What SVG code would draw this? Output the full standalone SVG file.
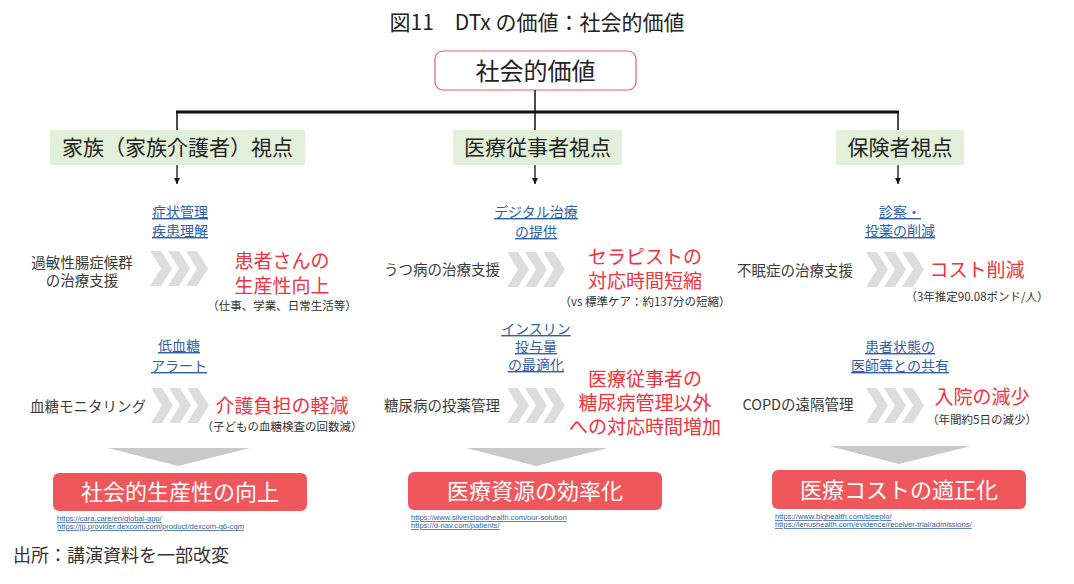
<svg xmlns="http://www.w3.org/2000/svg" width="1074" height="584" viewBox="0 0 1074 584">
<defs>
<style>
.jp{font-family:"Noto Sans CJK JP","Noto Sans",sans-serif;}
.title{font-size:21px;fill:#222;}
.hdr{font-size:21px;fill:#222;}
.lnk{font-size:14px;fill:#2f5fa8;text-decoration:underline;}
.dsc{font-size:14.5px;fill:#3a3a3a;}
.red{font-size:19px;fill:#f2323c;}
.sub{font-size:11.5px;fill:#333;}
.btn{font-size:22px;fill:#fff;}
.url{font-family:"Liberation Sans",Arial,sans-serif;font-size:7.6px;fill:#2f5fa8;text-decoration:underline;}
.green{fill:#e2efd9;}
.rbox{fill:#ef575d;}
.tri{fill:#c9c9c9;}
.chev{fill:#dddddd;}
.ln{stroke:#111;fill:none;}
</style>
<marker id="ah" markerWidth="8" markerHeight="8" refX="6" refY="4" orient="auto" markerUnits="userSpaceOnUse">
<path d="M0,1 L6,4 L0,7 Z" fill="#111"/>
</marker>
<g id="chevs">
<path d="M0,0 H11 L22,17.5 L11,35 H0 L11,17.5 Z"/>
<path d="M18,0 H29 L40,17.5 L29,35 H18 L29,17.5 Z"/>
<path d="M36,0 H47 L58,17.5 L47,35 H36 L47,17.5 Z"/>
</g>
</defs>
<rect width="1074" height="584" fill="#fff"/>

<text class="jp title" x="537" y="30" text-anchor="middle">図11　DTx の価値：社会的価値</text>

<g id="root">
<rect x="435" y="51" width="201" height="39" rx="8" fill="#fff" stroke="#e8636b" stroke-width="1.2"/>
<text class="jp" x="535.5" y="80" font-size="24" fill="#222" text-anchor="middle">社会的価値</text>
</g>

<g id="connectors">
<line class="ln" x1="535" y1="90" x2="535" y2="112" stroke-width="1.5"/>
<line class="ln" x1="176" y1="112" x2="899" y2="112" stroke-width="3"/>
<line class="ln" x1="177" y1="112" x2="177" y2="130" stroke-width="1.5"/>
<line class="ln" x1="535" y1="112" x2="535" y2="130" stroke-width="1.5"/>
<line class="ln" x1="898" y1="112" x2="898" y2="130" stroke-width="1.5"/>
<line class="ln" x1="177" y1="165" x2="177" y2="184" stroke-width="1.3" marker-end="url(#ah)"/>
<line class="ln" x1="535" y1="165" x2="535" y2="184" stroke-width="1.3" marker-end="url(#ah)"/>
<line class="ln" x1="898" y1="165" x2="898" y2="184" stroke-width="1.3" marker-end="url(#ah)"/>
</g>

<g id="hdr-family">
<rect class="green" x="50" y="130" width="255" height="35"/>
<text class="jp hdr" x="177.5" y="155" text-anchor="middle">家族（家族介護者）視点</text>
</g>
<g id="hdr-medical">
<rect class="green" x="453" y="130" width="169" height="35"/>
<text class="jp hdr" x="537.5" y="155" text-anchor="middle">医療従事者視点</text>
</g>
<g id="hdr-insurer">
<rect class="green" x="836" y="130" width="128" height="35"/>
<text class="jp hdr" x="900" y="155" text-anchor="middle">保険者視点</text>
</g>

<!-- Column 1 -->
<g id="c1-r1">
<text class="jp lnk" x="180" y="217" text-anchor="middle">症状管理</text>
<text class="jp lnk" x="180" y="236" text-anchor="middle">疾患理解</text>
<text class="jp dsc" x="82" y="268" text-anchor="middle">過敏性腸症候群</text>
<text class="jp dsc" x="82" y="286" text-anchor="middle">の治療支援</text>
<use href="#chevs" class="chev" x="150" y="251"/>
<text class="jp red" x="282" y="268" text-anchor="middle">患者さんの</text>
<text class="jp red" x="282" y="293" text-anchor="middle">生産性向上</text>
<text class="jp sub" x="282" y="310" text-anchor="middle">（仕事、学業、日常生活等）</text>
</g>
<g id="c1-r2">
<text class="jp lnk" x="179" y="351" text-anchor="middle">低血糖</text>
<text class="jp lnk" x="179" y="371" text-anchor="middle">アラート</text>
<text class="jp dsc" x="88" y="412" text-anchor="middle">血糖モニタリング</text>
<use href="#chevs" class="chev" x="151" y="388"/>
<text class="jp red" x="282" y="413" text-anchor="middle">介護負担の軽減</text>
<text class="jp sub" x="282" y="431" text-anchor="middle">（子どもの血糖検査の回数減）</text>
</g>
<g id="c1-result">
<path class="tri" d="M108,448 H250 L178,466 Z"/>
<rect class="rbox" x="53" y="473" width="254" height="38" rx="6"/>
<text class="jp btn" x="180" y="500" text-anchor="middle">社会的生産性の向上</text>
<text class="url" x="57" y="521">https://cara.care/en/global-app/</text>
<text class="url" x="57" y="529">https://jp.provider.dexcom.com/product/dexcom-g6-cgm</text>
</g>

<!-- Column 2 -->
<g id="c2-r1">
<text class="jp lnk" x="536" y="217" text-anchor="middle">デジタル治療</text>
<text class="jp lnk" x="536" y="237" text-anchor="middle">の提供</text>
<text class="jp dsc" x="442" y="275" text-anchor="middle">うつ病の治療支援</text>
<use href="#chevs" class="chev" x="507" y="252"/>
<text class="jp red" x="645" y="264" text-anchor="middle">セラピストの</text>
<text class="jp red" x="645" y="288" text-anchor="middle">対応時間短縮</text>
<text class="jp sub" x="645" y="306" text-anchor="middle">（vs 標準ケア：約137分の短縮）</text>
</g>
<g id="c2-r2">
<text class="jp lnk" x="536" y="334" text-anchor="middle">インスリン</text>
<text class="jp lnk" x="536" y="352" text-anchor="middle">投与量</text>
<text class="jp lnk" x="536" y="370" text-anchor="middle">の最適化</text>
<text class="jp dsc" x="442" y="411" text-anchor="middle">糖尿病の投薬管理</text>
<use href="#chevs" class="chev" x="507" y="388"/>
<text class="jp red" x="645" y="386" text-anchor="middle">医療従事者の</text>
<text class="jp red" x="645" y="410" text-anchor="middle">糖尿病管理以外</text>
<text class="jp red" x="645" y="434" text-anchor="middle">への対応時間増加</text>
</g>
<g id="c2-result">
<path class="tri" d="M466,448 H608 L536,466 Z"/>
<rect class="rbox" x="408" y="472" width="254" height="38" rx="6"/>
<text class="jp btn" x="535" y="499" text-anchor="middle">医療資源の効率化</text>
<text class="url" x="411" y="520">https://www.silvercloudhealth.com/our-solution</text>
<text class="url" x="411" y="528">https://d-nav.com/patients/</text>
</g>

<!-- Column 3 -->
<g id="c3-r1">
<text class="jp lnk" x="900" y="217" text-anchor="middle">診察・</text>
<text class="jp lnk" x="900" y="236" text-anchor="middle">投薬の削減</text>
<text class="jp dsc" x="795" y="276" text-anchor="middle">不眠症の治療支援</text>
<use href="#chevs" class="chev" x="866" y="252"/>
<text class="jp red" x="977" y="277" text-anchor="middle">コスト削減</text>
<text class="jp sub" x="977" y="301" text-anchor="middle">（3年推定90.08ポンド/人）</text>
</g>
<g id="c3-r2">
<text class="jp lnk" x="900" y="352" text-anchor="middle">患者状態の</text>
<text class="jp lnk" x="900" y="371" text-anchor="middle">医師等との共有</text>
<text class="jp dsc" x="798" y="410" text-anchor="middle">COPDの遠隔管理</text>
<use href="#chevs" class="chev" x="866" y="388"/>
<text class="jp red" x="982" y="404" text-anchor="middle">入院の減少</text>
<text class="jp sub" x="982" y="424" text-anchor="middle">（年間約5日の減少）</text>
</g>
<g id="c3-result">
<path class="tri" d="M829,446 H971 L899,464 Z"/>
<rect class="rbox" x="772" y="470" width="254" height="39" rx="6"/>
<text class="jp btn" x="899" y="498" text-anchor="middle">医療コストの適正化</text>
<text class="url" x="775" y="519">https://www.bighealth.com/sleepio/</text>
<text class="url" x="775" y="527">https://lenushealth.com/evidence/receiver-trial/admissions/</text>
</g>

<text x="13" y="562" font-family="'Liberation Serif','Noto Sans CJK JP',serif" font-size="18" fill="#333">出所：講演資料を一部改変</text>
</svg>
